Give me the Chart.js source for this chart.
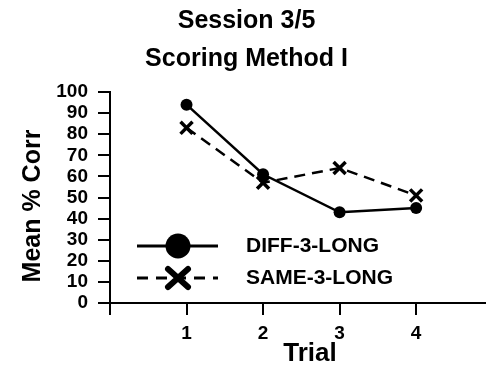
<!DOCTYPE html>
<html>
<head>
<meta charset="utf-8">
<script src="https://cdn.jsdelivr.net/npm/chart.js@4.4.1/dist/chart.umd.min.js"></script>
<style>
    body { margin: 0; background: #fff; }
    canvas { display: block; }
</style>
</head>
<body>
<canvas id="sessionChart" width="497" height="382"></canvas>
<script>
// Data
const trials = [1, 2, 3, 4];
const diffValues = [94, 61, 43, 45];   // DIFF-3-LONG
const sameValues = [83, 57, 64, 51];   // SAME-3-LONG
const seriesNames = ['DIFF-3-LONG', 'SAME-3-LONG'];
const xTickLabels = ['', '1', '2', '3', '4'];
const titleLines = ['Session 3/5', 'Scoring Method I'];
const xAxisTitle = 'Trial';
const yAxisTitle = 'Mean % Corr';

const FONT = "'Liberation Sans', Arial, sans-serif";

// Legend drawn inside the plot (left, lower part) + axis titles
const insideLegend = {
    id: 'insideLegend',
    afterDraw(chart) {
        const ctx = chart.ctx;
        const rows = [246, 278];
        ctx.save();
        ctx.strokeStyle = '#000';
        ctx.fillStyle = '#000';

        // solid line + big dot
        ctx.lineWidth = 3;
        ctx.beginPath();
        ctx.moveTo(137, rows[0]);
        ctx.lineTo(218, rows[0]);
        ctx.stroke();
        ctx.beginPath();
        ctx.arc(178, rows[0], 12.5, 0, Math.PI * 2);
        ctx.fill();

        // dashed line + big X
        ctx.setLineDash([11, 8]);
        ctx.beginPath();
        ctx.moveTo(137, rows[1]);
        ctx.lineTo(218, rows[1]);
        ctx.stroke();
        ctx.setLineDash([]);
        ctx.lineWidth = 6;
        ctx.lineCap = 'round';
        ctx.beginPath();
        ctx.moveTo(168, rows[1] - 9);
        ctx.lineTo(188, rows[1] + 9);
        ctx.moveTo(188, rows[1] - 9);
        ctx.lineTo(168, rows[1] + 9);
        ctx.stroke();

        ctx.font = 'bold 21px ' + FONT;
        ctx.textBaseline = 'middle';
        ctx.textAlign = 'left';
        ctx.fillText(seriesNames[0], 246, rows[0]);
        ctx.fillText(seriesNames[1], 246, rows[1]);

        // axis titles
        ctx.textAlign = 'center';
        ctx.font = 'bold 26px ' + FONT;
        ctx.fillText(xAxisTitle, 310, 354);
        ctx.translate(33, 206);
        ctx.rotate(-Math.PI / 2);
        ctx.font = 'bold 25px ' + FONT;
        ctx.fillText(yAxisTitle, 0, 0);
        ctx.restore();
    }
};

const ctx = document.getElementById('sessionChart').getContext('2d');

new Chart(ctx, {
    type: 'line',
    data: {
        datasets: [
            {
                label: seriesNames[0],
                data: trials.map((t, i) => ({ x: t, y: diffValues[i] })),
                borderColor: '#000',
                backgroundColor: '#000',
                borderWidth: 2.5,
                pointStyle: 'circle',
                pointRadius: 6,
                pointBorderWidth: 0,
                tension: 0
            },
            {
                label: seriesNames[1],
                data: trials.map((t, i) => ({ x: t, y: sameValues[i] })),
                borderColor: '#000',
                backgroundColor: '#000',
                borderWidth: 2.5,
                borderDash: [11, 7],
                pointStyle: 'crossRot',
                pointRadius: 8.5,
                pointBorderWidth: 3.5,
                tension: 0
            }
        ]
    },
    options: {
        responsive: false,
        animation: false,
        layout: {
            padding: { left: 0, right: 4, top: 0, bottom: 0 }
        },
        plugins: {
            legend: { display: false },
            tooltip: { enabled: false },
            title: {
                display: true,
                text: titleLines,
                color: '#000',
                font: { family: FONT, size: 25, weight: 'bold', lineHeight: 1.52 },
                padding: { top: 2, bottom: 14 }
            }
        },
        scales: {
            x: {
                type: 'linear',
                min: 0,
                max: 4.9,
                border: { display: true, color: '#000', width: 2 },
                grid: {
                    drawOnChartArea: false,
                    drawTicks: true,
                    tickLength: 12,
                    color: '#000',
                    lineWidth: 2
                },
                ticks: {
                    stepSize: 1,
                    includeBounds: false,
                    autoSkip: false,
                    color: '#000',
                    padding: 7,
                    font: { family: FONT, size: 19, weight: 'bold' },
                    callback: (v) => xTickLabels[v] ?? ''
                },
                afterFit(scale) { scale.height = 79; }
            },
            y: {
                min: 0,
                max: 100,
                border: { display: true, color: '#000', width: 2 },
                grid: {
                    drawOnChartArea: false,
                    drawTicks: true,
                    tickLength: 12,
                    color: '#000',
                    lineWidth: 2
                },
                ticks: {
                    stepSize: 10,
                    autoSkip: false,
                    color: '#000',
                    padding: 10,
                    font: { family: FONT, size: 19, weight: 'bold' }
                },
                afterFit(scale) { scale.width = 110; }
            }
        }
    },
    plugins: [insideLegend]
});
</script>
</body>
</html>
